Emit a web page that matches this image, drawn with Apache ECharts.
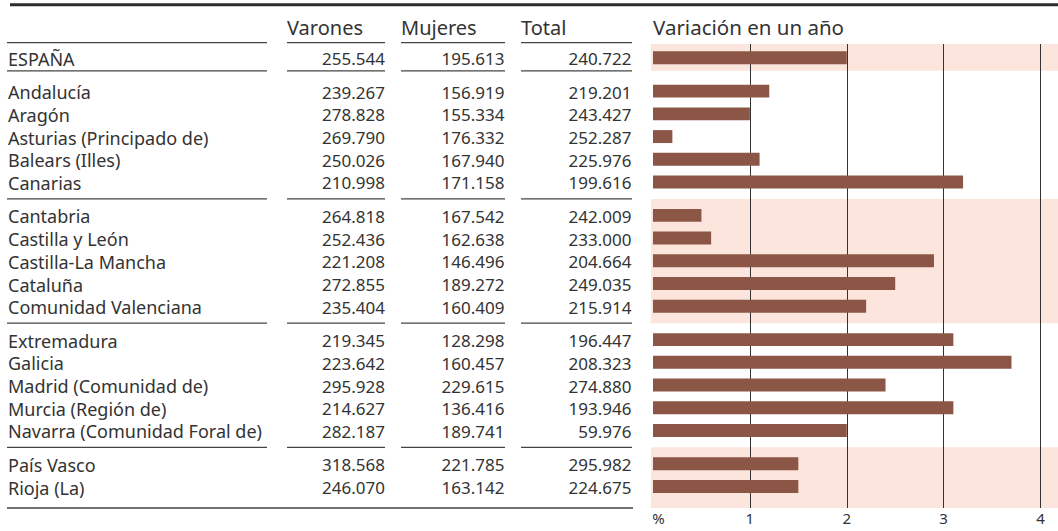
<!DOCTYPE html>
<html>
<head>
<meta charset="utf-8">
<script src="https://cdn.jsdelivr.net/npm/echarts@6/dist/echarts.min.js"></script>
<style>
  html, body { margin: 0; padding: 0; background: #fff; }
  #chart { width: 1058px; height: 531px; }
</style>
</head>
<body>
<div id="chart"></div>
<script>
const regions = [
  'ESPAÑA',
  'Andalucía', 'Aragón', 'Asturias (Principado de)', 'Balears (Illes)', 'Canarias',
  'Cantabria', 'Castilla y León', 'Castilla-La Mancha', 'Cataluña', 'Comunidad Valenciana',
  'Extremadura', 'Galicia', 'Madrid (Comunidad de)', 'Murcia (Región de)', 'Navarra (Comunidad Foral de)',
  'País Vasco', 'Rioja (La)'
];
const varones = [255544, 239267, 278828, 269790, 250026, 210998, 264818, 252436, 221208, 272855,
  235404, 219345, 223642, 295928, 214627, 282187, 318568, 246070];
const mujeres = [195613, 156919, 155334, 176332, 167940, 171158, 167542, 162638, 146496, 189272,
  160409, 128298, 160457, 229615, 136416, 189741, 221785, 163142];
const total = [240722, 219201, 243427, 252287, 225976, 199616, 242009, 233000, 204664, 249035,
  215914, 196447, 208323, 274880, 193946, 59976, 295982, 224675];
const variacion = [2.0, 1.2, 1.0, 0.2, 1.1, 3.2, 0.5, 0.6, 2.9, 2.5, 2.2, 3.1, 3.7, 2.4, 3.1, 2.0, 1.5, 1.5];
const groups = [0, 1, 1, 1, 1, 1, 2, 2, 2, 2, 2, 3, 3, 3, 3, 3, 4, 4];
const shadedGroups = [0, 2, 4];
const headers = ['Varones', 'Mujeres', 'Total'];
const chartTitle = 'Variación en un año';
const xTickLabels = ['%', '1', '2', '3', '4'];

const FONT = '"Noto Sans", "Open Sans", sans-serif';
const TEXT = '#333';
const GAP = 0.47;          // extra space between groups, in rows
const Y_MIN = -0.65;
const Y_MAX = 19.78;

const fmt = n => String(n).replace(/\B(?=(\d{3})+(?!\d))/g, '.');
const pos = groups.map((g, i) => i + g * GAP);

// one separator under each group, the last one is the bottom rule
const nGroups = Math.max(...groups) + 1;
const seps = [];
for (let g = 0; g < nGroups; g++) {
  const last = groups.lastIndexOf(g);
  seps.push(g === nGroups - 1 ? Y_MAX : pos[last] + (g === 0 ? 0.53 : 0.7));
}
const bands = shadedGroups.map(g => [g === 0 ? Y_MIN : seps[g - 1], seps[g]]);

// column segments of the table rules
const cols = [[7, 267], [287, 385], [401, 505], [521, 632]];
const numRight = [385, 504.5, 631.5];

const chart = echarts.init(document.getElementById('chart'), null, { renderer: 'svg' });

const textEl = (text, x, y, size, align) => ({
  type: 'text', x: x, y: y,
  style: {
    text: text, fill: TEXT, fontSize: size, fontFamily: FONT,
    align: align, verticalAlign: 'middle', textAlign: align, textVerticalAlign: 'middle'
  }
});

const option = {
  animation: false,
  grid: { left: 653, right: 0, top: 44, bottom: 23 },
  xAxis: {
    type: 'value', min: 0, max: 4.18, interval: 1, z: 3,
    axisLine: { show: false },
    axisTick: { show: false },
    splitLine: { show: true, showMinLine: false, showMaxLine: false, lineStyle: { color: '#333', width: 1 } },
    axisLabel: {
      margin: 2, fontSize: 15, lineHeight: 16, color: TEXT, fontFamily: FONT, showMaxLabel: false,
      formatter: v => v === 0 ? '{p|' + xTickLabels[0] + '}' : (xTickLabels[v] || ''),
      rich: { p: { fontSize: 15, lineHeight: 16, color: TEXT, fontFamily: FONT, padding: [0, 0, 0, 11] } }
    }
  },
  yAxis: { type: 'value', inverse: true, min: Y_MIN, max: Y_MAX, show: false },
  graphic: [
    { type: 'line', shape: { x1: 10, y1: 4.8, x2: 1058, y2: 4.8 }, style: { stroke: '#2b2b2b', lineWidth: 3 } },
    ...headers.map((h, k) => textEl(h, cols[k + 1][0], 27, 20, 'left')),
    textEl(chartTitle, 653, 27, 20.5, 'left'),
    ...cols.map(c => ({ type: 'line', shape: { x1: c[0], y1: 42.7, x2: c[1], y2: 42.7 }, style: { stroke: '#444', lineWidth: 1.3 } }))
  ],
  series: [
    {
      name: 'bands', type: 'custom', z: 1, silent: true,
      data: bands,
      renderItem: (params, api) => {
        const a = api.coord([0, api.value(0)]);
        const b = api.coord([0, api.value(1)]);
        const cs = params.coordSys;
        return { type: 'rect', shape: { x: a[0] - 2, y: a[1], width: cs.x + cs.width - a[0] + 2, height: b[1] - a[1] }, style: { fill: '#fce5dc' } };
      }
    },
    {
      name: 'Variación', type: 'custom', z: 5,
      data: variacion.map((v, i) => [v, pos[i]]),
      encode: { x: 0, y: 1 },
      renderItem: (params, api) => {
        const p0 = api.coord([0, api.value(1)]);
        const p1 = api.coord([api.value(0), api.value(1)]);
        const h = api.size([0, 0.57])[1];
        return { type: 'rect', shape: { x: p0[0], y: p0[1] - h / 2 - 1, width: p1[0] - p0[0], height: h }, style: { fill: '#8c5646' } };
      }
    },
    {
      name: 'tabla', type: 'custom', z: 4, silent: true,
      data: regions.map((r, i) => [0, pos[i], i]),
      encode: { x: 0, y: 1 },
      renderItem: (params, api) => {
        const i = api.value(2);
        const y = api.coord([0, api.value(1)])[1];
        return {
          type: 'group',
          children: [
            textEl(regions[i], 8, y, 18, 'left'),
            textEl(fmt(varones[i]), numRight[0], y, 17, 'right'),
            textEl(fmt(mujeres[i]), numRight[1], y, 17, 'right'),
            textEl(fmt(total[i]), numRight[2], y, 17, 'right')
          ]
        };
      }
    },
    {
      name: 'reglas', type: 'custom', z: 4, silent: true,
      data: seps.map((s, g) => [0, s, g === nGroups - 1 ? 1 : 0]),
      encode: { x: 0, y: 1 },
      renderItem: (params, api) => {
        const y = api.coord([0, api.value(1)])[1];
        const segs = api.value(2) ? [[7, 633]] : cols;
        return {
          type: 'group',
          children: segs.map(c => ({ type: 'line', shape: { x1: c[0], y1: y, x2: c[1], y2: y }, style: { stroke: '#444', lineWidth: 1.3 } }))
        };
      }
    }
  ]
};

chart.setOption(option);
</script>
</body>
</html>
